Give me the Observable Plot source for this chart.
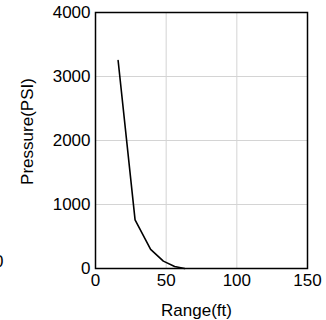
<!DOCTYPE html>
<html>
<head>
<meta charset="utf-8">
<script src="https://cdn.jsdelivr.net/npm/d3@7"></script>
<script src="https://cdn.jsdelivr.net/npm/@observablehq/plot@0.6"></script>
<style>
  html, body { margin: 0; padding: 0; background: #fff; }
  #wrap { position: relative; width: 326px; height: 320px; overflow: hidden; }
  #stray { position: absolute; left: -6px; top: 252px; font: 17px "Liberation Sans", Arial, sans-serif; color: #000; }
</style>
</head>
<body>
<div id="wrap"><div id="stray">0</div></div>
<script>
const rangeFt = [16, 28, 39, 48, 56, 63];
const pressurePsi = [3250, 760, 300, 115, 30, 0];
const xTicks = [0, 50, 100, 150];
const yTicks = [0, 1000, 2000, 3000, 4000];
const xLabel = ["Range(ft)"];
const yLabel = ["Pressure(PSI)"];

const data = rangeFt.map((r, i) => ({range: r, pressure: pressurePsi[i]}));

const chart = Plot.plot({
  width: 326,
  height: 320,
  marginLeft: 95,
  marginRight: 19,
  marginTop: 12,
  marginBottom: 52,
  style: {fontSize: "17px", fontFamily: "'Liberation Sans', Arial, sans-serif", color: "#000", background: "#fff", overflow: "visible"},
  x: {domain: [0, 150]},
  y: {domain: [0, 4000]},
  marks: [
    Plot.gridX(xTicks, {stroke: "#d4d4d4", strokeOpacity: 1, strokeWidth: 1}),
    Plot.gridY(yTicks, {stroke: "#d4d4d4", strokeOpacity: 1, strokeWidth: 1}),
    Plot.axisX(xTicks, {tickSize: 0, tickPadding: 5, tickFormat: d => String(d), label: null, fill: "#000"}),
    Plot.axisY(yTicks, {tickSize: 0, tickPadding: 5, tickFormat: d => String(d), label: null, fill: "#000"}),
    Plot.text(xLabel, {text: d => d, frameAnchor: "bottom", dy: 42, dx: -5, lineAnchor: "middle", fill: "#000"}),
    Plot.text(yLabel, {text: d => d, frameAnchor: "left", rotate: -90, dx: -68, dy: -9, textAnchor: "middle", lineAnchor: "middle", fill: "#000"}),
    Plot.line(data, {x: "range", y: "pressure", stroke: "#000", strokeWidth: 1.6}),
    Plot.frame({stroke: "#000", strokeWidth: 1.5})
  ]
});
document.getElementById("wrap").appendChild(chart);
</script>
</body>
</html>
